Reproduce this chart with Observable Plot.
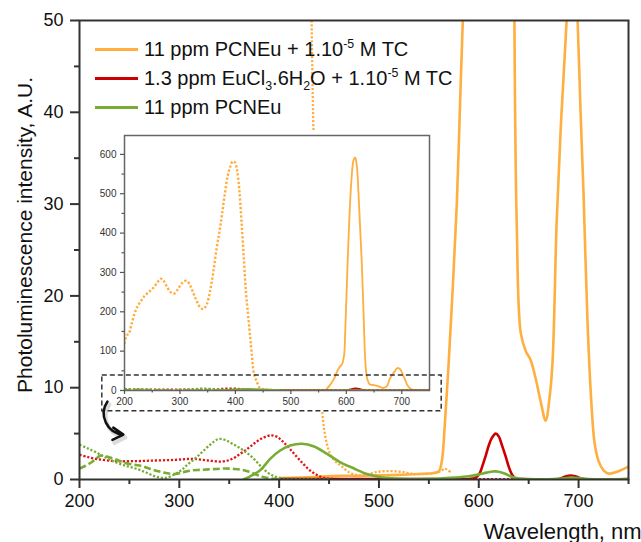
<!DOCTYPE html>
<html><head><meta charset="utf-8">
<script src="https://cdn.jsdelivr.net/npm/d3@7"></script>
<script src="https://cdn.jsdelivr.net/npm/@observablehq/plot@0.6"></script>
<style>
body{margin:0;background:#fff;font-family:"Liberation Sans",Arial,sans-serif;}
#wrap{position:relative;width:641px;height:542px;overflow:hidden;background:#fff;}
.leg{position:absolute;left:144px;font-size:20px;color:#111;white-space:nowrap;line-height:20px;}
.leg sup,.leg sub{font-size:0.62em;line-height:0;}
.legline{position:absolute;left:95px;width:43px;height:3px;}
</style></head><body><div id="wrap"></div>
<script>
// ---------- data ----------
const orangeEmWl  = [400,420,440,460,480,500,520,540,555,560,563,566,570,574,578,581,584,588,592,596,598,600,602,605,609,613,616,619,622,625,628,631,634,636,638,642,647,652,657,662,667,671,674,678,682,686,688,691,694,697,699,702,705,709,713,716,720,725,730,740,750];
const orangeEmVal = [0.15,0.2,0.3,0.4,0.4,0.45,0.5,0.6,0.7,0.9,2,6,13,21,30,40,50,60,66,90,150,230,310,420,530,585,592,570,500,410,320,200,80,45,28,16,14,13,11,8.5,6.4,9,13,28,38,46,50,56,57,54,50,40,31,17,8,4,2,1,0.65,0.9,1.4];

const orangeExWl  = [200,204,208,212,218,224,230,236,242,250,258,265,270,276,283,289,295,302,308,313,318,324,330,336,342,348,354,360,366,372,376,381,386,391,395,399,403,407,411,415,419,423,427,430,432,434,437,440,444,448,451,456,462,470,480,490,497,505,515,525,535,545,555,562,566,569,572];
const orangeExVal = [119,140,145,165,195,215,228,240,248,258,272,284,280,265,250,246,255,270,278,278,268,248,228,212,207,218,250,300,360,410,450,500,545,570,582,580,560,510,430,340,250,190,130,85,55,40,28,17,6.4,3.8,2.8,2.0,1.5,0.8,0.45,0.6,0.8,0.9,0.9,0.8,0.6,0.6,0.7,0.9,1.2,1.0,0.8];

const redEmWl  = [400,450,500,550,590,597,601,604,607,610,613,617,620,623,627,630,633,637,645,680,686,692,698,705,750];
const redEmVal = [0.05,0.05,0.05,0.05,0.05,0.2,0.7,1.6,2.6,3.7,4.5,5.0,4.7,3.8,2.5,1.4,0.6,0.1,0.05,0.05,0.3,0.44,0.3,0.05,0.05];

const redExWl  = [200,208,216,226,236,256,276,296,313,329,343,352,361,369,376,383,391,397,403,411,421,431,441,451,470,520,580,640,700,750];
const redExVal = [2.7,2.45,2.25,2.1,2.0,2.0,2.07,2.14,2.25,2.07,1.96,2.2,2.8,3.4,4.0,4.5,4.8,4.7,4.2,3.3,2.07,0.98,0.33,0.08,0.05,0.05,0.05,0.05,0.05,0.05];

const greenEmWl  = [364,371,381,391,401,411,423,435,448,461,475,488,502,522,540,560,575,590,600,608,614,620,627,633,640,650,675,685,693,700,710,750];
const greenEmVal = [0,0.35,1.0,2.25,3.16,3.7,3.9,3.6,2.8,1.9,1.2,0.6,0.25,0.08,0.05,0.1,0.2,0.35,0.55,0.75,0.87,0.85,0.6,0.3,0.1,0.05,0.05,0.12,0.2,0.15,0.05,0.05];

const greenExWl  = [200,208,216,226,236,246,256,266,276,286,296,303,309,316,323,331,339,346,353,361,369,376,382,388,395,402,410,430,450];
const greenExVal = [3.8,3.4,3.0,2.4,1.9,1.5,1.2,0.8,0.33,0.18,0.6,1.1,1.7,2.3,3.0,3.8,4.4,4.3,3.9,3.4,2.8,2.1,1.4,0.8,0.35,0.15,0.1,0.05,0.05];

const greenDashWl  = [200,206,211,216,221,227,233,240,246,255,263,271,279,287,296,304,313,321,329,338,346,355,363,370,378,385,392,400];
const greenDashVal = [1.2,1.5,1.8,2.2,2.6,2.5,2.3,2.05,1.8,1.6,1.45,1.15,0.9,0.7,0.6,0.8,1.0,1.05,1.1,1.15,1.2,1.15,1.05,0.85,0.5,0.25,0.1,0.05];

const xMajor = [200,300,400,500,600,700];
const xMinor = [250,350,450,550,650,750];
const yMajor = [0,10,20,30,40,50];
const yMinor = [5,15,25,35,45];
const insetYMajor = [0,100,200,300,400,500,600];
const insetYMinor = [50,150,250,350,450,550];

const legendLabels = [
  "11 ppm PCNEu + 1.10<sup>-5</sup> M TC",
  "1.3 ppm EuCl<sub>3</sub>.6H<sub>2</sub>O + 1.10<sup>-5</sup> M TC",
  "11 ppm PCNEu"
];
const yLabel = "Photoluminescence intensity, A.U.";
const xLabel = "Wavelength, nm";
// annotation: zoom box (inset coordinates) and curved arrow (main coordinates)
const zoomBox = [{x1:160, x2:772, y1:-53, y2:38}];
const zoomArrow = [{x1:228, y1:8.5, x2:244, y2:4.9}];

// ---------- styles ----------
const ORANGE = "#FFAE40", RED = "#CC0000", REDDOT = "#E01515", GREEN = "#78AD35";
const FONT = "'Liberation Sans', Arial, sans-serif";
const ser = (wl, val) => wl.map((w, i) => ({w, v: val[i]}));

const series = [
  {d: ser(orangeExWl, orangeExVal), c: ORANGE, kind: "dot"},
  {d: ser(orangeEmWl, orangeEmVal), c: ORANGE, kind: "solid"},
  {d: ser(redExWl, redExVal), c: REDDOT, kind: "dot"},
  {d: ser(redEmWl, redEmVal), c: RED, kind: "solid"},
  {d: ser(greenExWl, greenExVal), c: GREEN, kind: "dot"},
  {d: ser(greenDashWl, greenDashVal), c: GREEN, kind: "dash"},
  {d: ser(greenEmWl, greenEmVal), c: GREEN, kind: "solid"}
];

function lineMarks(solidScale, dotScale) {
  return series.map(s => Plot.line(s.d, {
    x: "w", y: "v", stroke: s.c, curve: "catmull-rom", clip: true,
    strokeWidth: s.kind === "dot" ? 2.3 * dotScale : 2.6 * solidScale,
    strokeDasharray: s.kind === "dot" ? `${2.2*dotScale},${1.8*dotScale}` : (s.kind === "dash" ? "7,3" : null),
    strokeLinecap: "butt", strokeLinejoin: "round"
  }));
}

const wrap = document.getElementById("wrap");

// ---------- main chart ----------
const main = Plot.plot({
  width: 641, height: 542,
  marginLeft: 79, marginRight: 13, marginTop: 20, marginBottom: 63,
  x: {domain: [200, 750]},
  y: {domain: [0, 50]},
  style: {position: "absolute", left: "0px", top: "0px", background: "white", fontFamily: FONT, fontSize: "18px", color: "#111", overflow: "visible"},
  marks: [
    ...lineMarks(1, 1),
    Plot.frame({stroke: "#333", strokeWidth: 2}),
    Plot.axisX(xMajor, {tickSize: 9, tickPadding: 6, fontSize: 18, stroke: "#333", strokeWidth: 2, label: null}),
    Plot.axisX(xMinor, {tickSize: 5, tickFormat: () => "", stroke: "#333", strokeWidth: 2, label: null}),
    Plot.axisY(yMajor, {tickSize: 9, tickPadding: 7, fontSize: 18, stroke: "#333", strokeWidth: 2, label: null}),
    Plot.axisY(yMinor, {tickSize: 5, tickFormat: () => "", stroke: "#333", strokeWidth: 2, label: null}),
    Plot.text([yLabel], {frameAnchor: "left", textAnchor: "middle", rotate: -90, dx: -54, dy: -15, fontSize: 21, fill: "#111"}),
    Plot.text([xLabel], {frameAnchor: "bottom", textAnchor: "start", lineAnchor: "bottom", dx: 129.5, dy: 59, fontSize: 22, fill: "#111"})
  ]
});
wrap.appendChild(main);

// ---------- legend ----------
const legendColors = [ORANGE, RED, GREEN];
const legendY = [49.3, 78.3, 107.3];
legendLabels.forEach((lab, i) => {
  const ln = document.createElement("div");
  ln.className = "legline";
  ln.style.top = (legendY[i] - 1.5) + "px";
  ln.style.background = legendColors[i];
  wrap.appendChild(ln);
  const tx = document.createElement("div");
  tx.className = "leg";
  tx.style.top = (legendY[i] - 10) + "px";
  tx.innerHTML = lab;
  wrap.appendChild(tx);
});

// ---------- inset ----------
const inset = Plot.plot({
  width: 343, height: 282,
  marginLeft: 24, marginRight: 14, marginTop: 5, marginBottom: 22,
  x: {domain: [200, 750]},
  y: {domain: [0, 648]},
  style: {position: "absolute", left: "100px", top: "130px", background: "white", fontFamily: FONT, fontSize: "10px", color: "#333", overflow: "visible"},
  marks: [
    ...lineMarks(0.7, 1.05),
    Plot.frame({stroke: "#666", strokeWidth: 1.5}),
    Plot.axisX(xMajor, {tickSize: 4, tickPadding: 3, fontSize: 10, stroke: "#555", strokeWidth: 1.2, label: null}),
    Plot.axisX(xMinor.slice(0, 5), {tickSize: 2.5, tickFormat: () => "", stroke: "#555", strokeWidth: 1.2, label: null}),
    Plot.axisY(insetYMajor, {tickSize: 4, tickPadding: 4, fontSize: 10, stroke: "#555", strokeWidth: 1.2, label: null}),
    Plot.axisY(insetYMinor, {tickSize: 2.5, tickFormat: () => "", stroke: "#555", strokeWidth: 1.2, label: null}),
    Plot.rect(zoomBox, {x1: "x1", x2: "x2", y1: "y1", y2: "y2", fill: "none", stroke: "#333", strokeWidth: 1.5, strokeDasharray: "5,3"})
  ]
});
wrap.appendChild(inset);

// ---------- arrow overlay ----------
const overlay = Plot.plot({
  width: 641, height: 542,
  marginLeft: 79, marginRight: 13, marginTop: 20, marginBottom: 63,
  x: {domain: [200, 750], axis: null},
  y: {domain: [0, 50], axis: null},
  style: {position: "absolute", left: "0px", top: "0px", background: "transparent", overflow: "visible"},
  marks: [
    Plot.arrow(zoomArrow, {x1: "x1", y1: "y1", x2: "x2", y2: "y2", bend: -60, stroke: "#999", strokeOpacity: 0.35, strokeWidth: 4, headLength: 8, dx: 2, dy: 3}),
    Plot.arrow(zoomArrow, {x1: "x1", y1: "y1", x2: "x2", y2: "y2", bend: -60, stroke: "#111", strokeWidth: 2.5, headLength: 8})
  ]
});
wrap.appendChild(overlay);
</script></body></html>
